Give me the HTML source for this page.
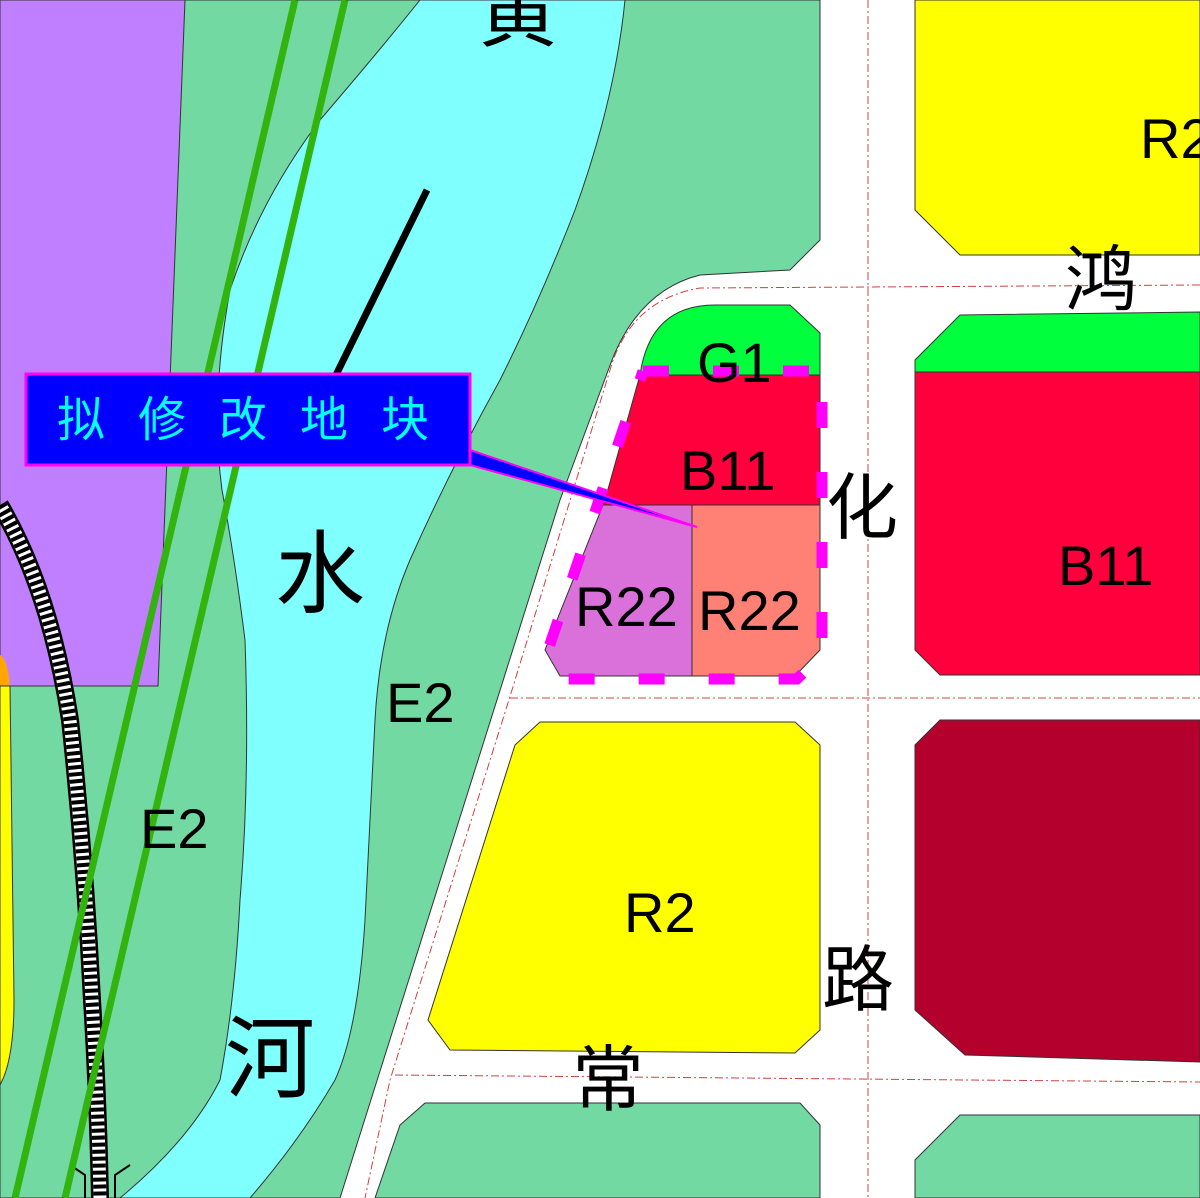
<!DOCTYPE html>
<html><head><meta charset="utf-8"><style>
html,body{margin:0;padding:0;background:#fff}
svg{display:block}
text{font-family:"Liberation Sans","Noto Sans CJK SC",sans-serif}
</style></head><body>
<svg width="1200" height="1198" viewBox="0 0 1200 1198" xmlns="http://www.w3.org/2000/svg">
<rect width="1200" height="1198" fill="#fff"/>
<path d="M0,0 L820,0 L820,240 L790,270 L700,275 Q640,290 612,360 L560,500 L340,1198 L0,1198 Z" fill="#72d9a2" stroke="#333" stroke-width="1"/>
<path d="M420,0 L625,0 Q615,100 575,210 Q540,300 500,380 Q450,470 410,560 Q380,630 375,720 Q370,820 365,920 Q358,1030 335,1080 Q300,1140 250,1198 L120,1198 Q190,1140 220,1080 Q235,1000 240,900 Q250,780 245,640 Q235,560 222,490 Q210,400 230,290 Q260,200 320,120 Q380,50 420,0 Z" fill="#80ffff" stroke="#333" stroke-width="1"/>
<path d="M0,0 L185,0 L158,686 L0,686 Z" fill="#bf7fff" stroke="#333" stroke-width="1"/>
<path d="M0,655 Q8,660 10,686 L0,686 Z" fill="#ffa500"/>
<path d="M0,686 L10,686 L14,1000 Q14,1060 0,1085 Z" fill="#ffff00" stroke="#333" stroke-width="1"/>
<path d="M0,505 Q50,590 70,720 Q85,860 92,1000 Q98,1100 100,1198" fill="none" stroke="#000" stroke-width="18"/>
<path d="M0,505 Q50,590 70,720 Q85,860 92,1000 Q98,1100 100,1198" fill="none" stroke="#fff" stroke-width="13"/>
<path d="M0,505 Q50,590 70,720 Q85,860 92,1000 Q98,1100 100,1198" fill="none" stroke="#000" stroke-width="13" stroke-dasharray="4 3"/>
<path d="M70,1165 L85,1175 L85,1198 M130,1165 L115,1175 L115,1198" fill="none" stroke="#000" stroke-width="2"/>
<line x1="295" y1="0" x2="15" y2="1198" stroke="#33b30d" stroke-width="7"/>
<line x1="345" y1="0" x2="65" y2="1198" stroke="#33b30d" stroke-width="7"/>
<line x1="427" y1="190" x2="336" y2="375" stroke="#000" stroke-width="7"/>
<g fill="none" stroke="#d04040" stroke-width="1" stroke-dasharray="8 3 2 3">
<line x1="868" y1="0" x2="868" y2="1198"/>
<path d="M1200,285 L700,288 Q630,300 610,370 L512,690 L390,1080 L365,1198"/>
<line x1="510" y1="698" x2="1200" y2="698"/>
<line x1="395" y1="1075" x2="1200" y2="1082"/>
</g>
<path d="M915,0 L1200,0 L1200,255 L960,255 L915,210 Z" fill="#ffff00" stroke="#333"/>
<path d="M960,315 L1200,312 L1200,372 L915,372 L915,360 Z" fill="#00ff3c" stroke="#333"/>
<path d="M915,372 L1200,372 L1200,675 L940,675 L915,650 Z" fill="#ff003c" stroke="#333"/>
<path d="M940,720 L1200,720 L1200,1062 L965,1055 L915,1010 L915,745 Z" fill="#b3002d" stroke="#333"/>
<path d="M540,722 L795,722 L820,745 L820,1030 L795,1053 L450,1050 L428,1020 L515,745 Z" fill="#ffff00" stroke="#333"/>
<path d="M425,1103 L800,1103 L820,1125 L820,1198 L375,1198 L400,1125 Z" fill="#72d9a2" stroke="#333"/>
<path d="M960,1115 L1200,1115 L1200,1198 L915,1198 L915,1160 Z" fill="#72d9a2" stroke="#333"/>
<path d="M640,375 Q650,305 715,305 L790,305 L820,333 L820,375 Z" fill="#00ff3c" stroke="#333"/>
<path d="M640,375 L820,375 L820,507 L603,507 Z" fill="#ff003c" stroke="#333"/>
<path d="M603,505 L692,505 L692,676 L560,676 L545,650 Z" fill="#da70da" stroke="#333"/>
<path d="M692,505 L820,505 L820,650 L795,676 L692,676 Z" fill="#ff8075" stroke="#333"/>
<path d="M643,371 L822,371 L822,655 L797,679 L562,679 L548,650 L643,371" fill="none" stroke="#ff00ff" stroke-width="11" stroke-dasharray="26 44"/>
<path d="M470,465 L697,527 L470,450 Z" fill="#0000ff" stroke="#ff00ff" stroke-width="2"/>
<rect x="26" y="374" width="444" height="91" fill="#0000ff" stroke="#ff00ff" stroke-width="3"/>
<text x="57" y="436" font-size="48" fill="#00ffff" letter-spacing="33">拟修改地块</text>
<g fill="#000">
<text x="478" y="40" font-size="80">黄</text>
<text x="275" y="605" font-size="90">水</text>
<text x="225" y="1090" font-size="90">河</text>
<text x="386" y="722" font-size="56">E2</text>
<text x="140" y="848" font-size="56">E2</text>
<text x="1140" y="158" font-size="56">R2</text>
<text x="1065" y="305" font-size="72">鸿</text>
<text x="826" y="533" font-size="72">化</text>
<text x="822" y="1005" font-size="72">路</text>
<text x="572" y="1105" font-size="72">常</text>
<text x="1058" y="585" font-size="56">B11</text>
<text x="624" y="932" font-size="56">R2</text>
<text x="680" y="490" font-size="56">B11</text>
<text x="697" y="382" font-size="56">G1</text>
<text x="575" y="626" font-size="56">R22</text>
<text x="698" y="630" font-size="56">R22</text>
</g>
</svg>
</body></html>
